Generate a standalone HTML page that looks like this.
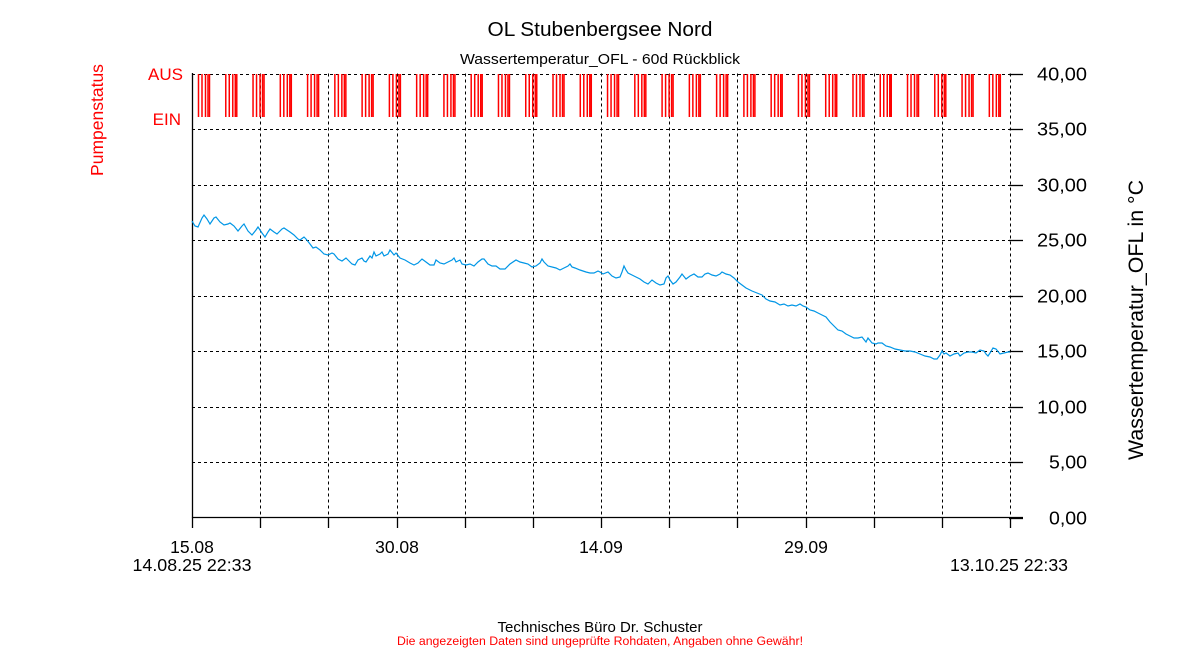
<!DOCTYPE html>
<html><head><meta charset="utf-8"><style>
html,body{margin:0;padding:0;background:#fff;}
svg{display:block;font-family:"Liberation Sans",Arial,sans-serif;}
</style></head><body>
<svg id="s" width="1200" height="650" viewBox="0 0 1200 650" xmlns="http://www.w3.org/2000/svg">
<rect width="1200" height="650" fill="#fff"/>
<text x="600" y="36" font-size="20" text-anchor="middle" textLength="225" lengthAdjust="spacingAndGlyphs">OL Stubenbergsee Nord</text>
<text x="600" y="64" font-size="15" text-anchor="middle" textLength="280" lengthAdjust="spacingAndGlyphs">Wassertemperatur_OFL - 60d Rückblick</text>
<text x="183" y="80" font-size="17" fill="#f00" text-anchor="end">AUS</text>
<text x="181" y="125" font-size="17" fill="#f00" text-anchor="end">EIN</text>
<text transform="translate(103,120) rotate(-90)" font-size="17.5" fill="#f00" text-anchor="middle">Pumpenstatus</text>
<text transform="translate(1143,320) rotate(-90)" font-size="21" text-anchor="middle" textLength="280" lengthAdjust="spacingAndGlyphs">Wassertemperatur_OFL in °C</text>
<g id="grid" stroke="#000" stroke-width="1" stroke-dasharray="3,3" fill="none"></g>
<g id="pump" stroke="#f00" stroke-width="1.5"></g>
<g id="axes" stroke="#000" stroke-width="1.3"></g>
<g id="labels" font-size="17.5"></g>
<polyline fill="none" stroke="#0096e6" stroke-width="1.2" points="192,221 195,226 198,227 202,218 204,215 207,219 210,224 214,218 216,217 220,222 224,225 228,224 230,223 234,226 238,231 242,226 244,224 248,231 252,235 256,230 258,227 262,233 265,237 268,232 270,229 274,232 277,234 282,229 284,228 290,232 294,235 298,239 300,240 304,237 306,239 310,244 313,248 316,247 320,250 324,254 328,255 332,253 334,254 338,259 342,261 346,258 348,260 352,264 355,265 358,260 362,258 364,261 366,262 370,256 372,258 374,252 376,256 380,254 382,252 384,256 388,254 390,250 394,255 396,253 400,258 405,260 410,263 414,265 418,263 422,259 426,262 430,265 434,265 436,260 440,263 444,264 448,262 452,260 454,258 456,262 460,260 462,264 466,265 470,264 474,266 478,262 482,259 484,259 488,264 492,266 496,266 500,269 505,269 510,264 516,260 520,262 524,263 528,264 532,267 536,266 540,263 542,259 544,262 548,266 556,268 560,270 564,268 568,266 570,264 572,267 575,268 580,270 586,272 590,273 594,273 598,271 600,272 603,274 608,272 612,276 616,278 620,277 622,272 624,266 626,270 628,273 632,275 636,277 640,279 644,282 648,284 652,280 656,283 660,285 664,284 666,278 668,276 670,280 673,284 676,282 680,277 682,274 686,279 690,276 694,274 698,277 702,277 705,274 708,273 712,275 716,276 720,274 722,272 726,274 730,275 734,278 738,282 742,285 746,288 752,291 757,293 762,295 766,299 770,301 775,302 780,305 784,304 788,306 792,305 796,306 800,304 803,306 806,307 810,310 814,311 818,313 822,315 826,317 830,322 834,326 838,330 842,331 846,334 850,336 854,338 858,338 862,337 866,342 868,338 872,343 876,344 878,343 882,343 886,346 890,347 895,349 900,350 905,351 910,351 915,352 920,354 925,356 930,357 934,359 937,359 940,355 942,351 944,354 946,353 950,356 954,354 958,353 960,356 964,353 968,352 972,352 976,353 980,350 984,351 986,354 988,356 990,353 993,348 996,349 1000,354 1004,353 1008,352 1010,352"/>
<text x="600" y="632" font-size="15" text-anchor="middle" textLength="205" lengthAdjust="spacingAndGlyphs">Technisches Büro Dr. Schuster</text>
<text x="600" y="645" font-size="12.3" fill="#f00" text-anchor="middle" textLength="406" lengthAdjust="spacingAndGlyphs">Die angezeigten Daten sind ungeprüfte Rohdaten, Angaben ohne Gewähr!</text>
</svg>
<script>
var NS="http://www.w3.org/2000/svg";
function el(p,t,a,txt){var e=document.createElementNS(NS,t);for(var k in a)e.setAttribute(k,a[k]);if(txt)e.textContent=txt;document.getElementById(p).appendChild(e);}
var x0=192,x1=1010,y0=73.5,y1=517.5,dx=(x1-x0)/12;
for(var i=0;i<=12;i++){var x=Math.round(x0+i*dx)+0.5;el("grid","line",{x1:x,y1:y0,x2:x,y2:y1});el("axes","line",{x1:x,y1:y1,x2:x,y2:528});}
for(var j=0;j<8;j++){var y=Math.round(y0+j*(y1-y0)/8)+0.5;el("grid","line",{x1:x0,y1:y,x2:x1,y2:y});}
for(var j=0;j<=8;j++){var y=Math.round(y0+j*(y1-y0)/8)+0.5;el("axes","line",{x1:1009,y1:y,x2:1023,y2:y});
 var s=((8-j)*5).toFixed(2).replace(".",",");
 el("labels","text",{x:1087,y:y+6,"text-anchor":"end","font-size":"18",textLength:(s.length==5?50:38),lengthAdjust:"spacingAndGlyphs"},s);}
el("axes","line",{x1:192.5,y1:73,x2:192.5,y2:518});
el("axes","line",{x1:192,y1:517.5,x2:1023,y2:517.5});
var offs=[0,3.5,7,9.5,11];
for(var g=0;g<30;g++){var b=198.5+g*27.27;for(var k=0;k<offs.length;k++){var x=b+offs[k];el("pump","line",{x1:x,y1:74,x2:x,y2:117});}}
el("labels","text",{x:192,y:553,"text-anchor":"middle"},"15.08");
el("labels","text",{x:192,y:571,"text-anchor":"middle",textLength:119,lengthAdjust:"spacingAndGlyphs"},"14.08.25 22:33");
el("labels","text",{x:397,y:553,"text-anchor":"middle"},"30.08");
el("labels","text",{x:601,y:553,"text-anchor":"middle"},"14.09");
el("labels","text",{x:806,y:553,"text-anchor":"middle"},"29.09");
el("labels","text",{x:1009,y:571,"text-anchor":"middle",textLength:118,lengthAdjust:"spacingAndGlyphs"},"13.10.25 22:33");
</script>
</body></html>
